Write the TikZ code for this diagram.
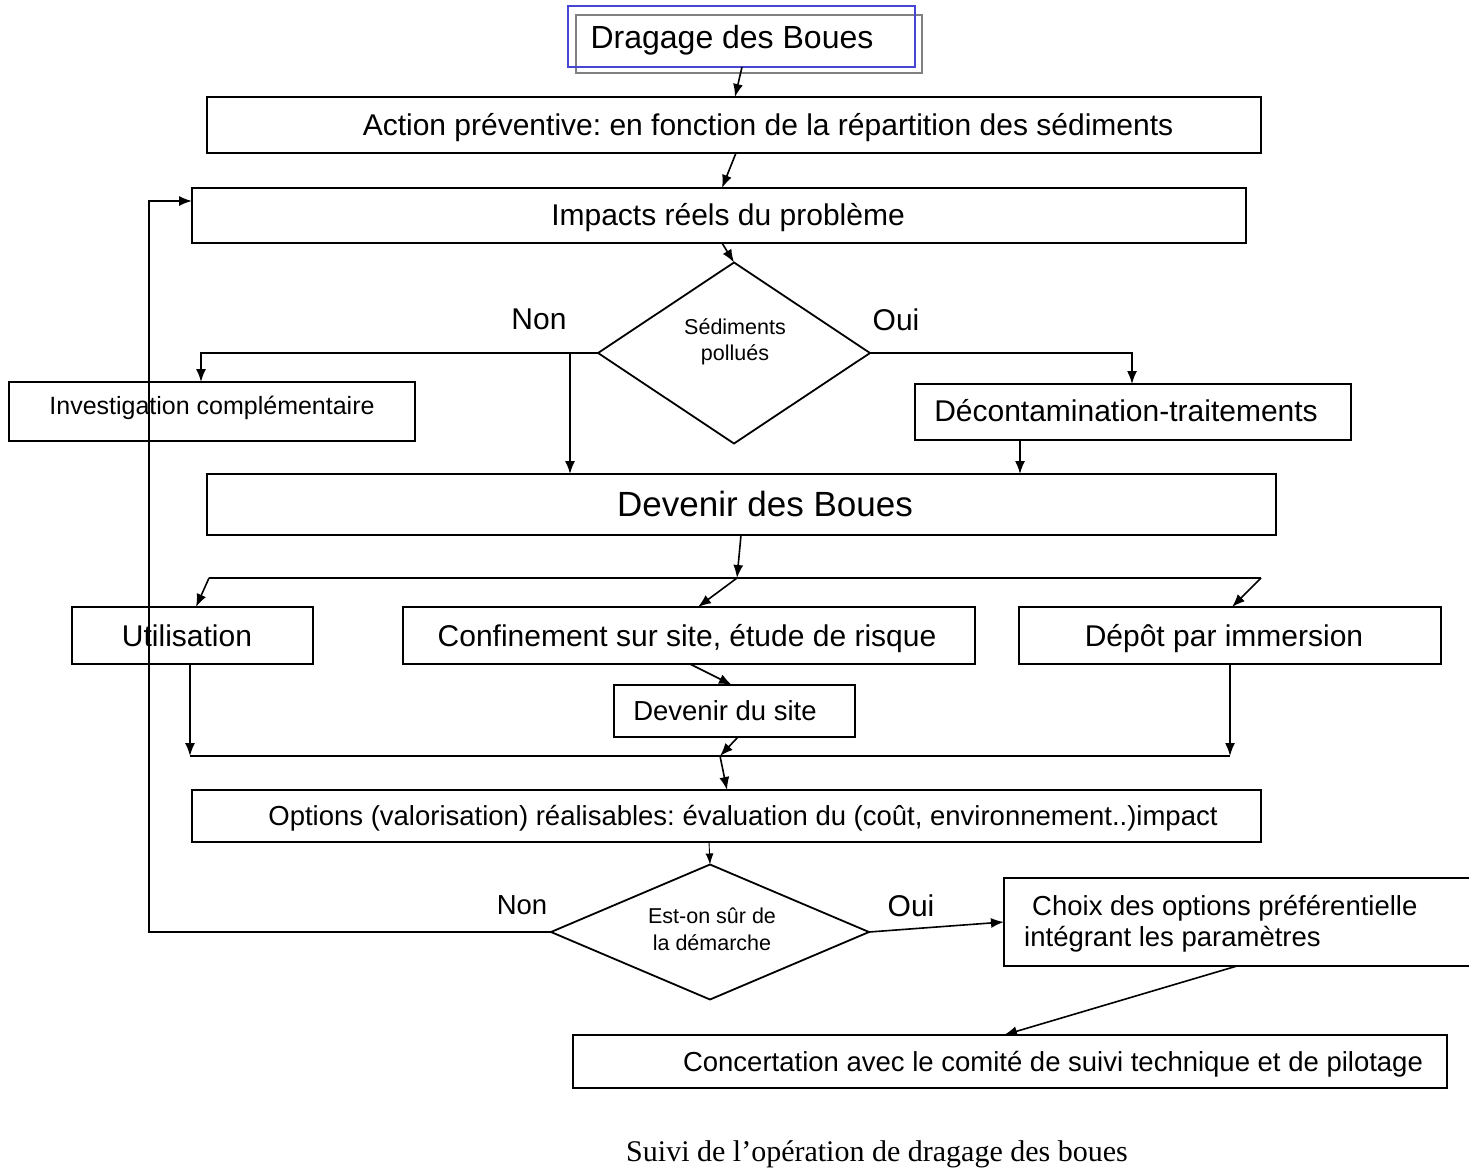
\documentclass[tikz,border=0pt]{standalone}
\usepackage{fontspec}
\setmainfont{Liberation Sans}
\newfontfamily\capfont{Liberation Serif}
\usetikzlibrary{shapes.geometric,arrows.meta,calc}
\frenchspacing

% box given by its corners (x1,y1) and (x2,y2), y measured downwards
\newcommand\mkbox[6][]{%
  \node[box,#1,minimum width={#5-#3},minimum height={#6-#4}] (#2)
    at ({(#3+#5)/2},{(#4+#6)/2}) {};}

\begin{document}
\begin{tikzpicture}[x=1pt,y=-1pt,
  box/.style={draw,rectangle,line width=1.8pt,inner sep=0pt,outer sep=0pt},
  % text nodes are centred on the middle of the capitals
  lbl/.style={inner sep=0pt,text depth=0pt},
  fa/.style={font=\fontsize{32}{38}\selectfont,text height=22.9pt},
  fb/.style={font=\fontsize{30}{36}\selectfont,text height=21.5pt},
  fc/.style={font=\fontsize{27.5}{33}\selectfont,text height=19.7pt},
  fd/.style={font=\fontsize{25}{30}\selectfont,text height=17.9pt},
  fe/.style={font=\fontsize{21.5}{26}\selectfont,text height=15.4pt},
  fg/.style={font=\fontsize{35}{42}\selectfont,text height=25.1pt},
  arr/.style={line width=1.6pt,-{Latex[length=13pt,width=10pt]}},
  thinarr/.style={line width=0.9pt,-{Latex[length=11pt,width=8pt]}},
  ln/.style={line width=1.6pt},
  dia/.style={draw,diamond,line width=1.8pt,inner sep=0pt,outer sep=0pt},
]
\useasboundingbox (0,0) rectangle (1469,1175);

% ---- title box (two offset frames)
\mkbox[draw=gray,line width=1.8pt]{dragg}{576}{15}{922}{73}
\mkbox[draw={rgb,255:red,70;green,70;blue,210},line width=1.5pt]{dragb}{568}{6}{915}{67}
\node[lbl,fa] (drag-t) at (732,37) {Dragage des Boues};

% ---- boxes
\mkbox{act}{207}{97}{1261}{153}
\mkbox{imp}{192}{188}{1246}{243}
\mkbox{inv}{9}{382}{415}{441}
\mkbox{dec}{915}{384}{1351}{440}
\mkbox{dev}{207}{474}{1276}{535}
\mkbox{uti}{72}{607}{313}{664}
\mkbox{con}{403}{607}{975}{664}
\mkbox{dep}{1019}{607}{1441}{664}
\mkbox{site}{614}{685}{855}{737}
\mkbox{opt}{192}{790}{1261}{842}
\mkbox{choix}{1004}{878}{1480}{966}
\mkbox{conc}{573}{1035}{1447}{1088}

% ---- decisions
\node[dia,minimum width=272pt,minimum height=181pt] (d1) at (734,353) {};
\node[dia,minimum width=318pt,minimum height=135pt] (d2) at (710,932) {};

% ---- texts
\node[lbl,fb] (act-t) at (768,125) {Action préventive: en fonction de la répartition des sédiments};
\node[lbl,fb] (imp-t) at (728,215) {Impacts réels du problème};
\node[lbl,fd] (inv-t) at (212,406) {Investigation complémentaire};
\node[lbl,fb] (dec-t) at (1126,411) {Décontamination-traitements};
\node[lbl,fg] (dev-t) at (765,504) {Devenir des Boues};
\node[lbl,fb] (uti-t) at (187,636) {Utilisation};
\node[lbl,fb] (con-t) at (687,636) {Confinement sur site, étude de risque};
\node[lbl,fb] (dep-t) at (1224,636) {Dépôt par immersion};
\node[lbl,fc] (site-t) at (725,711) {Devenir du site};
\node[lbl,fc] (opt-t) at (743,816) {Options (valorisation) réalisables: évaluation du (coût, environnement..)impact};
\node[lbl,fc,anchor=west] (choix-t1) at (1032,906) {Choix des options préférentielle};
\node[lbl,fc,anchor=west] (choix-t2) at (1024,937) {intégrant les paramètres};
\node[lbl,fc] (conc-t) at (1053,1062) {Concertation avec le comité de suivi technique et de pilotage};
\node[lbl,fe] (d1-t1) at (735,327) {Sédiments};
\node[lbl,fe] (d1-t2) at (735,353) {pollués};
\node[lbl,fe] (d2-t1) at (712,916) {Est-on sûr de};
\node[lbl,fe] (d2-t2) at (712,943) {la démarche};
\node[lbl,fb] (non1) at (539,319) {Non};
\node[lbl,fb] (oui1) at (896,320) {Oui};
\node[lbl,fc] (non2) at (522,905) {Non};
\node[lbl,fb] (oui2) at (911,906) {Oui};
\node[inner sep=0pt,text height=19.9pt,text depth=0pt,font=\capfont\fontsize{30}{36}\selectfont]
  (caption) at (877,1152) {Suivi de l’opération de dragage des boues};

% ---- junction points
\coordinate (nb) at (570,353);
\coordinate (J) at (737,578);
\coordinate (JL) at (209,578);
\coordinate (JR) at (1261,578);
\coordinate (CL) at (190,756);
\coordinate (CR) at (1230,756);
\coordinate (K) at (720,756);
\coordinate (FBL) at (149,201);

% ---- connectors
\draw[arr] ([xshift=174pt]dragb.south west) -- ([xshift=528pt]act.north west);
\draw[arr] ([xshift=529pt]act.south west) -- ([xshift=530pt]imp.north west);
\draw[arr] ([xshift=530pt]imp.south west) -- (d1.north);
\draw[arr] (d1.west) -| ([xshift=192pt]inv.north west);
\draw[arr] (nb) -- (nb |- dev.north);
\draw[arr] (d1.east) -| ([xshift=217pt]dec.north west);
\draw[arr] ([xshift=105pt]dec.south west) -- ([xshift=813pt]dev.north west);
\draw[arr] ([xshift=534pt]dev.south west) -- (J);
\draw[ln] (JL) -- (JR);
\draw[arr] (JL) -- ([xshift=124pt]uti.north west);
\draw[arr] (J) -- ([xshift=295pt]con.north west);
\draw[arr] (JR) -- ([xshift=213pt]dep.north west);
\draw[arr] ([xshift=287pt]con.south west) -- ([xshift=118pt]site.north west);
\draw[ln] (CL) -- (CR);
\draw[arr] ([xshift=118pt]uti.south west) -- (CL);
\draw[arr] ([xshift=211pt]dep.south west) -- (CR);
\draw[arr] ([xshift=124pt]site.south west) -- (K);
\draw[arr] (K) -- ([xshift=535pt]opt.north west);
\draw[thinarr] ([xshift=517pt]opt.south west) -- (d2.north);
\draw[arr] (d2.west) -| (FBL) -- (FBL -| imp.west);
\draw[arr] (d2.east) -- (choix.west);
\draw[arr] ([xshift=233pt]choix.south west) -- ([xshift=431pt]conc.north west);
\end{tikzpicture}
\end{document}
